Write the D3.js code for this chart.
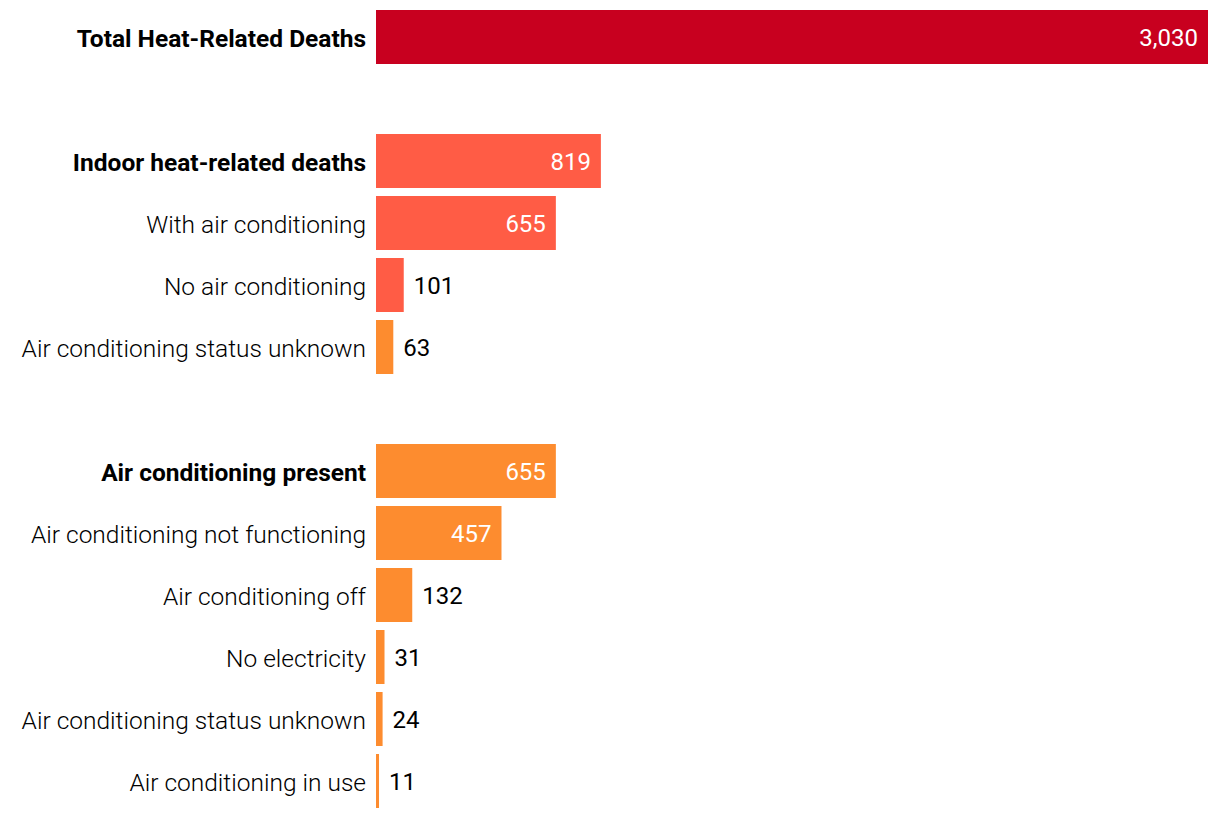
<!DOCTYPE html>
<html><head><meta charset="utf-8">
<script src="https://cdn.jsdelivr.net/npm/d3@7"></script>
<style>
body{margin:0;background:#fff;}
svg{display:block;}
</style></head>
<body><svg id="c" width="1220" height="818"></svg>
<script>
const labels = ["Total Heat-Related Deaths","","Indoor heat-related deaths","With air conditioning","No air conditioning","Air conditioning status unknown","","Air conditioning present","Air conditioning not functioning","Air conditioning off","No electricity","Air conditioning status unknown","Air conditioning in use"];
const values = [3030,null,819,655,101,63,null,655,457,132,31,24,11];
const bold = [true,false,true,false,false,false,false,true,false,false,false,false,false];
const colorGroup = ["total","","indoor","indoor","indoor","ac","","ac","ac","ac","ac","ac","ac"];
const palette = {total:"#c8001f", indoor:"#ff5c45", ac:"#fd8c2f"};

const svg = d3.select("#c");
const x0 = 376, x1 = 1208;
const x = d3.scaleLinear().domain([0,3030]).range([x0,x1]);
const y = d3.scaleBand().domain(d3.range(labels.length)).range([10,808]).paddingInner(8/62).paddingOuter(0);
const fmt = d3.format(",");
const rows = labels.map((l,i)=>({l,v:values[i],b:bold[i],c:colorGroup[i],i})).filter(d=>d.v!=null);

svg.selectAll("rect.bar").data(rows).join("rect")
  .attr("x",x(0)).attr("y",d=>y(d.i)).attr("width",d=>x(d.v)-x(0)).attr("height",y.bandwidth())
  .attr("fill",d=>palette[d.c]);

svg.selectAll("text.lab").data(rows).join("text")
  .attr("x",x0-10).attr("y",d=>y(d.i)+y.bandwidth()/2+1).attr("dy","0.35em")
  .attr("text-anchor","end")
  .style("font-family","Roboto, sans-serif").style("font-size","24.5px")
  .style("font-weight",d=>d.b?700:300).attr("fill","#000")
  .text(d=>d.l);

svg.selectAll("text.val").data(rows).join("text")
  .each(function(d){
    const w = x(d.v)-x(0);
    const inside = w>100;
    d3.select(this)
      .attr("x", inside ? x(d.v)-10 : x(d.v)+10)
      .attr("text-anchor", inside ? "end":"start")
      .attr("fill", inside ? "#fff":"#000");
  })
  .attr("y",d=>y(d.i)+y.bandwidth()/2+1).attr("dy","0.35em")
  .style("font-family","Roboto, sans-serif").style("font-size","24px").style("font-weight",400)
  .text(d=>fmt(d.v));
</script></body></html>
